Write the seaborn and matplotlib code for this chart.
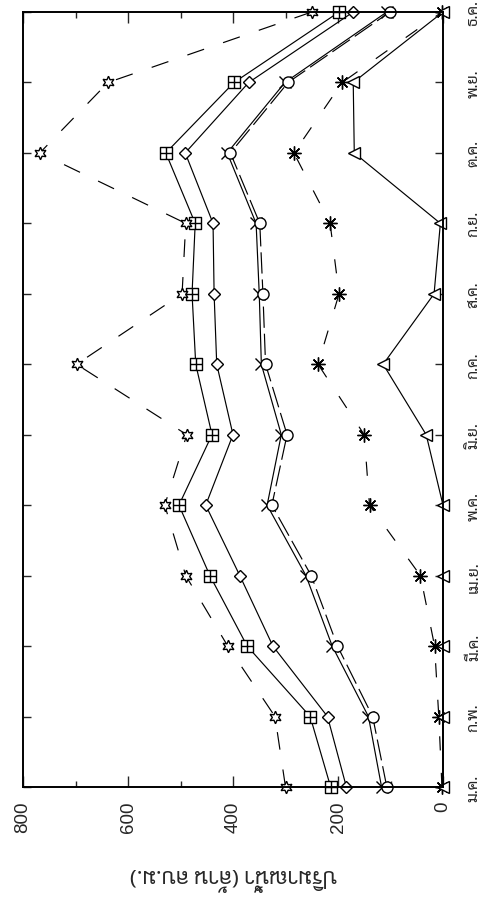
import matplotlib
matplotlib.use("Agg")
import matplotlib.pyplot as plt
from matplotlib.path import Path
from matplotlib.ticker import MultipleLocator
import numpy as np
import pandas as pd
import seaborn as sns

# Thai month abbreviations and monthly volumes (million m^3)
months = ["ม.ค.", "ก.พ.", "มี.ค.", "เม.ย.", "พ.ค.", "มิ.ย.",
          "ก.ค.", "ส.ค.", "ก.ย.", "ต.ค.", "พ.ย.", "ธ.ค."]
square_plus = [214, 253, 373, 444, 503, 440, 471, 478, 472, 528, 398, 198]
diamond = [184, 220, 324, 387, 452, 400, 431, 436, 438, 491, 370, 171]
star = [300, 320, 410, 490, 530, 488, 698, 497, 490, 768, 638, 250]
cross = [117, 142, 211, 261, 335, 308, 346, 350, 356, 411, 301, 107]
circle = [107, 134, 201, 251, 326, 297, 338, 343, 349, 405, 295, 101]
asterisk = [2, 8, 16, 43, 140, 150, 238, 198, 215, 284, 192, 2]
triangle = [0, 0, 0, 0, 0, 32, 114, 17, 5, 169, 171, 0]

value_ticks = [0, 200, 400, 600, 800]
ylabel_text = "ปริมาณน้ำ (ล้าน ลบ.ม.)"

sns.set_style("ticks")
plt.rcParams["font.family"] = ["Liberation Sans", "DejaVu Sans"]
thai_family = ["Sarabun", "Loma", "Garuda", "DejaVu Sans"]

# square with a plus inside
sq_verts = [(-1, -1), (1, -1), (1, 1), (-1, 1), (-1, -1),
            (0, -1), (0, 1), (-1, 0), (1, 0)]
sq_codes = [Path.MOVETO, Path.LINETO, Path.LINETO, Path.LINETO, Path.CLOSEPOLY,
            Path.MOVETO, Path.LINETO, Path.MOVETO, Path.LINETO]
square_plus_marker = Path(sq_verts, sq_codes)

month_pos = np.arange(1, 13)

# (values, marker, line style, marker size, marker face)
series = [
    (square_plus, square_plus_marker, "-", 8.5, "white"),
    (diamond, "D", "-", 6.5, "white"),
    (star, (6, 1, 0), (0, (15, 17)), 9, "white"),
    (cross, "x", "-", 8, "black"),
    (circle, "o", (0, (18, 5)), 8, "white"),
    (asterisk, (8, 2, 0), (0, (12, 19)), 10, "black"),
    (triangle, "<", "-", 8, "white"),
]

fig = plt.figure(figsize=(4.92, 9.03), dpi=100)
ax = fig.add_axes([23 / 492, 115 / 903, 420 / 492, 775 / 903])

for vals, mk, ls, ms, face in series:
    df = pd.DataFrame({"value": vals, "month": month_pos})
    sns.lineplot(data=df, x="value", y="month", orient="y", sort=False,
                 estimator=None, ax=ax, color="black", linewidth=0.85,
                 linestyle=ls, marker=mk, markersize=ms,
                 markerfacecolor=face, markeredgecolor="black",
                 markeredgewidth=1.0, clip_on=False)

ax.set_xlim(800, 0)
ax.set_ylim(1, 12)
ax.set_xticks(value_ticks)
ax.xaxis.set_minor_locator(MultipleLocator(100))
ax.set_yticks(month_pos)
ax.set_yticklabels(months, family=thai_family, fontsize=11.5)
ax.tick_params(axis="x", which="both", direction="in", top=True, bottom=True,
               labelrotation=90, labelsize=13.5, pad=10, width=1)
ax.tick_params(axis="x", which="major", length=8)
ax.tick_params(axis="x", which="minor", length=4)
ax.tick_params(axis="y", direction="in", left=True, right=True,
               labelleft=False, labelright=True, labelrotation=90,
               length=6, width=1, pad=17)
for lab in ax.get_yticklabels():
    lab.set_verticalalignment("center")
ax.set_xlabel(ylabel_text, family=thai_family, fontsize=16, rotation=180,
              labelpad=22)
ax.set_ylabel("")
for sp in ax.spines.values():
    sp.set_linewidth(1.4)
    sp.set_color("black")

fig.savefig("out.png", dpi=100, facecolor="white")
